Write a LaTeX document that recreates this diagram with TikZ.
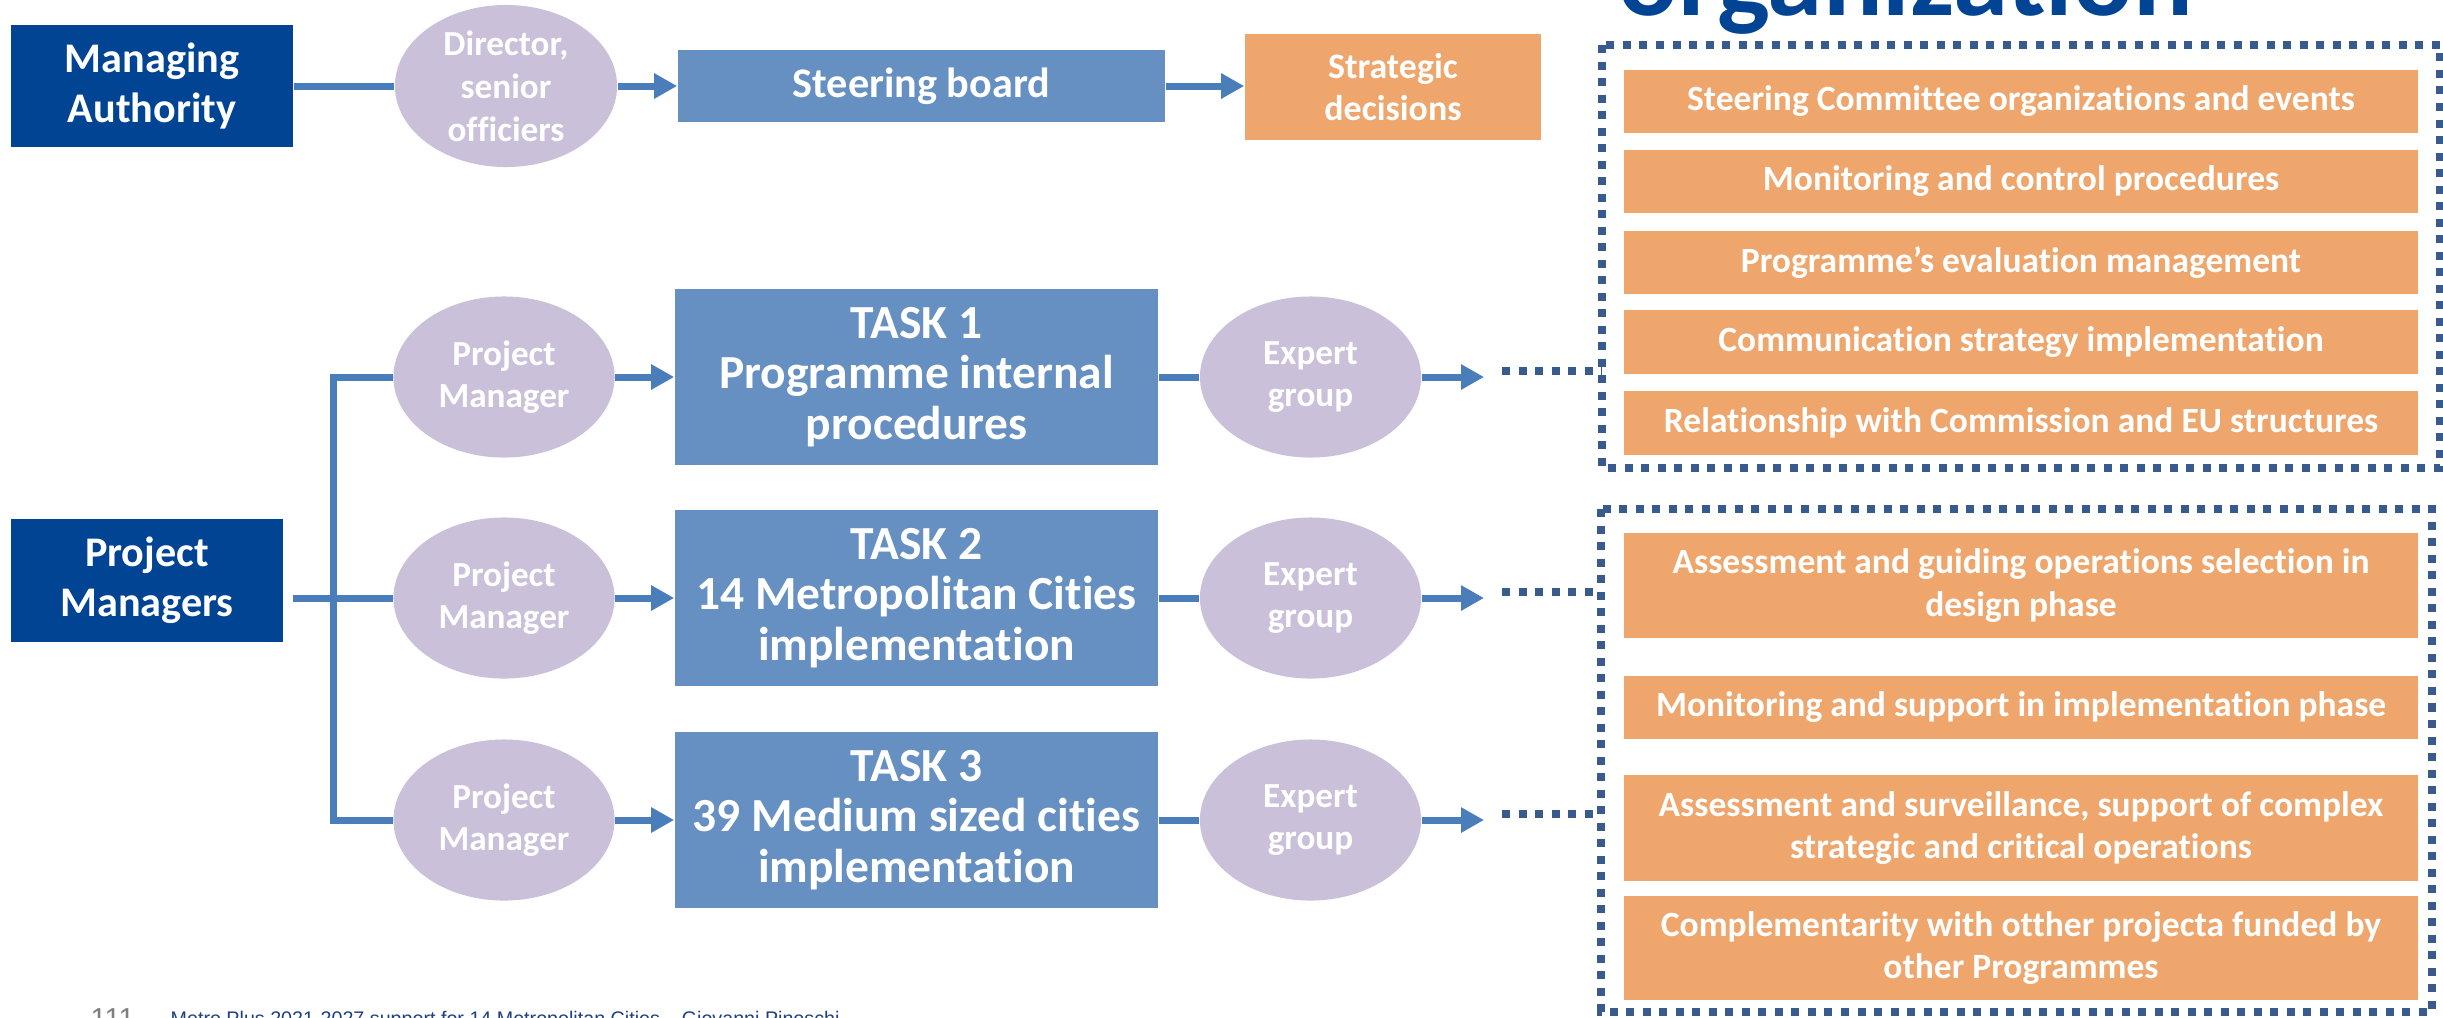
\documentclass[tikz,border=0pt]{standalone}
\usepackage{fontspec}
\setmainfont{Carlito}[Ligatures=NoCommon]
\newfontfamily\footfont{Liberation Sans}
\usetikzlibrary{arrows.meta,shapes.geometric,calc}
\definecolor{mablue}{RGB}{2,68,148}
\definecolor{taskblue}{RGB}{102,144,193}
\definecolor{lilac}{RGB}{203,192,218}
\definecolor{orng}{RGB}{238,166,109}
\definecolor{arrblue}{RGB}{74,126,187}
\definecolor{dotblue}{RGB}{56,90,140}
\definecolor{footgrey}{RGB}{127,127,127}
\definecolor{footblue}{RGB}{31,63,127}
\tikzset{
  darkbox/.style={rectangle, fill=mablue, text=white, align=center, inner sep=0pt,
    font=\bfseries\fontsize{12}{14.3}\selectfont},
  midbox/.style={rectangle, fill=taskblue, text=white, align=center, inner sep=0pt,
    font=\bfseries\fontsize{13.5}{14.3}\selectfont},
  oval/.style={ellipse, fill=lilac, text=white, align=center, inner sep=0pt,
    minimum width=2.21cm, minimum height=1.61cm,
    font=\bfseries\fontsize{10}{11.8}\selectfont},
  orbox/.style={rectangle, fill=orng, text=white, align=center, inner sep=0pt,
    minimum width=7.94cm, font=\bfseries\fontsize{10.1}{12}\selectfont},
  conn/.style={draw=arrblue, line width=0.07cm},
  arr/.style={conn, -{Triangle[length=0.23cm,width=0.24cm]}},
  dots/.style={draw=dotblue, line width=0.078cm, dash pattern=on 0.08cm off 0.085cm},
}
\begin{document}
\begin{tikzpicture}[x=0.01cm,y=-0.01cm]
\useasboundingbox (0,0) rectangle (2443,1017);
\fill[white] (0,0) rectangle (2443,1017);

% title (cut off)
\node[anchor=base west, inner sep=0pt, text=mablue, font=\bfseries\fontsize{31.7}{36}\selectfont] (title) at (1618,15) {organization};

% top row
\node[darkbox, minimum width=2.82cm, minimum height=1.21cm] (ma) at (152,86) {Managing\\Authority};
\node[oval, minimum width=2.22cm, minimum height=1.62cm, font=\bfseries\fontsize{10}{12.2}\selectfont] (dir) at (506,86) {Director,\\senior\\officiers};
\node[midbox, minimum width=4.87cm, minimum height=0.72cm, font=\bfseries\fontsize{12}{14}\selectfont] (sb) at (921.5,86) {Steering board};
\node[rectangle, fill=orng, text=white, align=center, inner sep=0pt, minimum width=2.96cm, minimum height=1.06cm,
  font=\bfseries\fontsize{10.2}{12}\selectfont] (sd) at (1393,87) {Strategic\\decisions};

\draw[conn] (ma.east) -- (dir.west);
\draw[arr] (dir.east) -- (sb.west);
\draw[arr] (sb.east) -- (sd.west |- sb.east);

% project managers
\node[darkbox, minimum width=2.72cm, minimum height=1.23cm] (pms) at (147,580.5) {Project\\Managers};
\node[oval] (pm1) at (504,377) {Project\\Manager};
\node[oval] (pm2) at (504,598) {Project\\Manager};
\node[oval] (pm3) at (504,820) {Project\\Manager};
\coordinate (trunk) at (333,598);
\coordinate (pmsout) at (293,598);
\draw[conn, line join=miter] (pm1.west) -| (trunk) |- (pm3.west);
\draw[conn] (pmsout) -- (pm2.west);

% tasks
\node[midbox, minimum width=4.83cm, minimum height=1.75cm] (t1) at (916.5,377) {TASK 1\\Programme internal\\procedures};
\node[midbox, minimum width=4.83cm, minimum height=1.75cm] (t2) at (916.5,598) {TASK 2\\14 Metropolitan Cities\\implementation};
\node[midbox, minimum width=4.83cm, minimum height=1.75cm] (t3) at (916.5,820) {TASK 3\\39 Medium sized cities\\implementation};

\draw[arr] (pm1.east) -- (t1.west);
\draw[arr] (pm2.east) -- (t2.west);
\draw[arr] (pm3.east) -- (t3.west);

% expert groups
\node[oval] (eg1) at (1310.5,377) {Expert\\group};
\node[oval] (eg2) at (1310.5,598) {Expert\\group};
\node[oval] (eg3) at (1310.5,820) {Expert\\group};
\draw[conn] (t1.east) -- (eg1.west);
\draw[conn] (t2.east) -- (eg2.west);
\draw[conn] (t3.east) -- (eg3.west);
\coordinate (a1) at (1484,377);
\coordinate (a2) at (1484,598);
\coordinate (a3) at (1484,820);
\draw[arr] (eg1.east) -- (a1);
\draw[arr] (eg2.east) -- (a2);
\draw[arr] (eg3.east) -- (a3);

% right boxes
\node[orbox, minimum height=0.63cm] (r1) at (2021,101.5) {Steering Committee organizations and events};
\node[orbox, minimum height=0.63cm] (r2) at (2021,181.5) {Monitoring and control procedures};
\node[orbox, minimum height=0.63cm] (r3) at (2021,262.5) {Programme’s evaluation management};
\node[orbox, minimum height=0.63cm] (r4) at (2021,342) {Communication strategy implementation};
\node[orbox, minimum height=0.63cm] (r5) at (2021,423) {Relationship with Commission and EU structures};

\node[orbox, minimum height=1.05cm] (s1) at (2021,585.5) {Assessment and guiding operations selection in\\design phase};
\node[orbox, minimum height=0.63cm] (s2) at (2021,707.5) {Monitoring and support in implementation phase};
\node[orbox, minimum height=1.06cm] (s3) at (2021,828) {Assessment and surveillance, support of complex\\strategic and critical operations};
\node[orbox, minimum height=1.04cm] (s4) at (2021,948) {Complementarity with otther projecta funded by\\other Programmes};

\coordinate (b1nw) at (1602,45);
\coordinate (b1se) at (2440,468);
\coordinate (b2nw) at (1601,509);
\coordinate (b2se) at (2432,1012);
\draw[dots] (b1nw) rectangle (b1se);
\draw[dots] (b2nw) rectangle (b2se);

\coordinate (d1s) at (1502,371);
\coordinate (d2s) at (1502,592);
\coordinate (d3s) at (1502,814);
\draw[dots] (d1s) -- (b1nw |- d1s);
\draw[dots] (d2s) -- (b2nw |- d2s);
\draw[dots] (d3s) -- (b2nw |- d3s);

% footer (cut off)
\node[anchor=base west, inner sep=0pt, text=footgrey, font=\footfont\fontsize{8.2}{9}\selectfont] (pg) at (90,1028) {111};
\node[anchor=base west, inner sep=0pt, text=footblue, font=\footfont\fontsize{5.6}{6}\selectfont] (ft) at (170,1025) {Metro Plus 2021-2027 support for 14 Metropolitan Cities – Giovanni Pinoschi};
\end{tikzpicture}
\end{document}
